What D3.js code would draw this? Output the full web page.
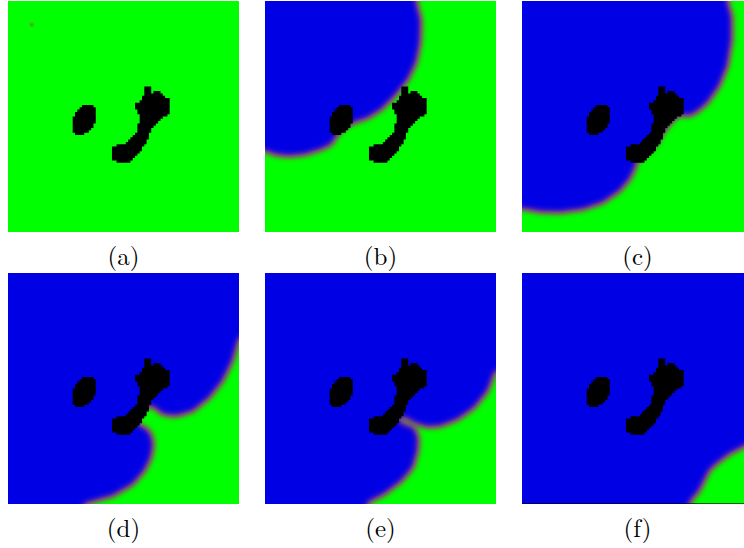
<!DOCTYPE html>
<html>
<head>
<meta charset="utf-8">
<script src="https://cdn.jsdelivr.net/npm/d3@7"></script>
<style>
  html, body { margin: 0; padding: 0; background: #fff; }
  svg { display: block; }
</style>
</head>
<body>
<script>
// Simulation grid: 100 x 100 cells, coordinates in cell units.
const gridSize = 100;

const panelLabels = ["(a)", "(b)", "(c)", "(d)", "(e)", "(f)"];

// Obstacles (non-excitable tissue), outlines in grid units.
const obstacleOval = [
  [34.5, 44.8], [37.9, 46.1], [37.9, 51.3], [36.6, 54.7], [34.5, 56.5],
  [31.0, 58.2], [28.9, 57.3], [28.0, 54.7], [28.4, 50.4], [29.7, 47.8], [31.9, 45.7]
];
const obstacleFoot = [
  [60.5, 36.9], [61.6, 37.1], [61.9, 39.8], [64.1, 39.5], [65.8, 39.4], [66.7, 40.5],
  [66.9, 41.5], [68.8, 41.9], [69.8, 42.7], [69.4, 44.1], [69.8, 46.3], [69.4, 48.4],
  [68.1, 49.9], [66.3, 51.0], [64.8, 52.0], [63.4, 54.2], [61.9, 55.6], [60.9, 58.5],
  [59.8, 60.6], [58.3, 63.5], [56.9, 65.6], [54.7, 67.8], [52.6, 69.3], [50.4, 69.7],
  [47.5, 69.7], [45.7, 68.5], [45.1, 65.9], [45.4, 63.5], [46.9, 62.5], [49.7, 62.1],
  [51.9, 61.3], [53.6, 59.2], [55.5, 57.0], [56.5, 55.6], [56.9, 51.3], [56.6, 48.4],
  [55.5, 47.0], [54.7, 44.8], [56.6, 43.8], [58.3, 41.9], [59.1, 40.5], [59.5, 37.6]
];

// Stimulus site at the first snapshot.
const stimulusSite = [[10.3, 10.3]];

// Excited (blue) region at each snapshot, outlines in grid units.
const excitedA = [];
const excitedB = [
  [-15, -15], [66, -15], [65.4, 0], [67.5, 8.2], [67.2, 18.1], [65.4, 26.7], [61.8, 34.1],
  [56.0, 41.3], [50.3, 47.0], [44.5, 50.6], [38.8, 52.5], [34.5, 54.5], [31.5, 57.8],
  [30.2, 59.9], [28.7, 62.1], [24.4, 64.2], [17.2, 66.4], [10.0, 67.1], [4.3, 66.4],
  [0.7, 65.0], [-15, 63.5]
];
const excitedC = [
  [-15, -15], [89, -15], [88.9, 0], [90.8, 6.8], [90.8, 16.8], [88.9, 28.3], [85.3, 36.9],
  [80.3, 44.1], [75.3, 48.4], [71.7, 49.9], [69.5, 49.1], [67, 50], [64, 53], [61, 57],
  [58, 62], [54, 66], [50, 69], [48.7, 72.8], [46.6, 77.2], [42.2, 82.2], [35.0, 87.2],
  [26.4, 90.1], [16.4, 91.5], [7.8, 91.2], [2.0, 90.1], [-15, 88.5]
];
const excitedD = [
  [-15, -15], [115, -15], [115, 25], [100, 28.1], [97.1, 38.2], [92.8, 46.9], [87.1, 54.0],
  [79.9, 59.8], [72.7, 61.9], [66.9, 61.2], [63.4, 58.3], [61.5, 57.2], [57.5, 60],
  [55.5, 64], [57, 66], [59.8, 67.2], [61.9, 69.8], [62.9, 74.1], [61.9, 79.9],
  [59.1, 85.6], [54.0, 91.4], [45.4, 96.4], [36.8, 98.8], [33, 100], [30, 115], [-15, 115]
];
const excitedE = [
  [-15, -15], [115, -15], [115, 40], [99.6, 42.5], [96.3, 51.2], [90.5, 58.3], [83.3, 63.4],
  [76.1, 66.2], [70.4, 66.7], [66.1, 65.5], [63.2, 64.1], [60.5, 62.5], [57, 62],
  [59, 64.8], [64.7, 67.0], [66.4, 71.3], [66.1, 77.0], [64.0, 84.2], [59.1, 90.0],
  [51.7, 95.7], [44.5, 99.3], [42, 115], [-15, 115]
];
const excitedF = [
  [-15, -15], [115, -15], [115, 71], [100, 73.2], [96.3, 74.9], [89.7, 78.4], [83.9, 82.8],
  [81.0, 85.6], [76.7, 94.3], [72.4, 99.3], [71, 115], [-15, 115]
];
const excitedRegions = [excitedA, excitedB, excitedC, excitedD, excitedE, excitedF];

// ---- layout ----
const W = 744, H = 548;
const panelSize = 231;
const colX = [8, 265, 522];
const rowY = [1, 273];

const svg = d3.select("body").append("svg")
  .attr("width", W).attr("height", H)
  .attr("viewBox", `0 0 ${W} ${H}`);

const x = d3.scaleLinear().domain([0, gridSize]).range([0, panelSize]);
const y = d3.scaleLinear().domain([0, gridSize]).range([0, panelSize]);

const defs = svg.append("defs");

// Smooth the activation field, then map its level to the colour scale
// resting (green) -> recovery front (purple) -> excited (blue).
const fieldFilter = defs.append("filter")
  .attr("id", "field")
  .attr("filterUnits", "userSpaceOnUse")
  .attr("x", -40).attr("y", -40)
  .attr("width", panelSize + 80).attr("height", panelSize + 80)
  .attr("color-interpolation-filters", "sRGB");
fieldFilter.append("feGaussianBlur").attr("stdDeviation", 3.4);
const ct = fieldFilter.append("feComponentTransfer");
ct.append("feFuncR").attr("type", "table").attr("tableValues", "0 0.34 0.42 0.24 0");
ct.append("feFuncG").attr("type", "table").attr("tableValues", "1 0.56 0.3 0.1 0");
ct.append("feFuncB").attr("type", "table").attr("tableValues", "0 0.24 0.52 0.75 0.9");

defs.append("filter").attr("id", "soft")
  .append("feGaussianBlur").attr("stdDeviation", 0.8);

const line = d3.line().x(d => x(d[0])).y(d => y(d[1]));

// Obstacle cells: rasterise outlines onto the simulation grid
// (a cell counts as blocked when any of its sample points lies inside).
const samples = [[0.5, 0.5], [0.3, 0.5], [0.7, 0.5], [0.5, 0.3], [0.5, 0.7]];
let cellPath = "";
for (let i = 0; i < gridSize; i++) {
  for (let j = 0; j < gridSize; j++) {
    const blocked = samples.some(([sx, sy]) => {
      const c = [i + sx, j + sy];
      return d3.polygonContains(obstacleOval, c) || d3.polygonContains(obstacleFoot, c);
    });
    if (blocked) {
      cellPath += `M${x(i)},${y(j)}h${x(1)}v${y(1)}h${-x(1)}Z`;
    }
  }
}

panelLabels.forEach((label, k) => {
  const px = colX[k % 3], py = rowY[Math.floor(k / 3)];
  const g = svg.append("g").attr("transform", `translate(${px},${py})`);

  defs.append("clipPath").attr("id", `clip-${k}`)
    .append("rect").attr("x", 0).attr("y", 0)
    .attr("width", panelSize).attr("height", panelSize);

  const inner = g.append("g").attr("clip-path", `url(#clip-${k})`);
  const field = inner.append("g").attr("filter", "url(#field)");
  field.append("rect")
    .attr("x", -30).attr("y", -30)
    .attr("width", panelSize + 60).attr("height", panelSize + 60)
    .attr("fill", "#000");
  const region = excitedRegions[k];
  if (region.length) {
    field.append("path").attr("d", line(region) + "Z").attr("fill", "#fff");
  }

  if (k === 0) {
    inner.selectAll("circle.stim").data(stimulusSite).join("circle")
      .attr("class", "stim")
      .attr("cx", d => x(d[0])).attr("cy", d => y(d[1]))
      .attr("r", 1.6)
      .attr("fill", "#9a5a20")
      .attr("filter", "url(#soft)");
  }

  inner.append("path").attr("d", cellPath).attr("fill", "#000");

  if (k === 5) {
    inner.append("rect")
      .attr("x", 0).attr("y", panelSize - 1)
      .attr("width", panelSize).attr("height", 1)
      .attr("fill", "#000").attr("opacity", 0.6);
  }

  svg.append("text")
    .attr("x", px + panelSize / 2)
    .attr("y", py + 264)
    .attr("text-anchor", "middle")
    .attr("font-family", "'Latin Modern Roman', 'CMU Serif', 'Liberation Serif', serif")
    .attr("font-size", 25)
    .attr("fill", "#000")
    .text(label);
});
</script>
</body>
</html>
